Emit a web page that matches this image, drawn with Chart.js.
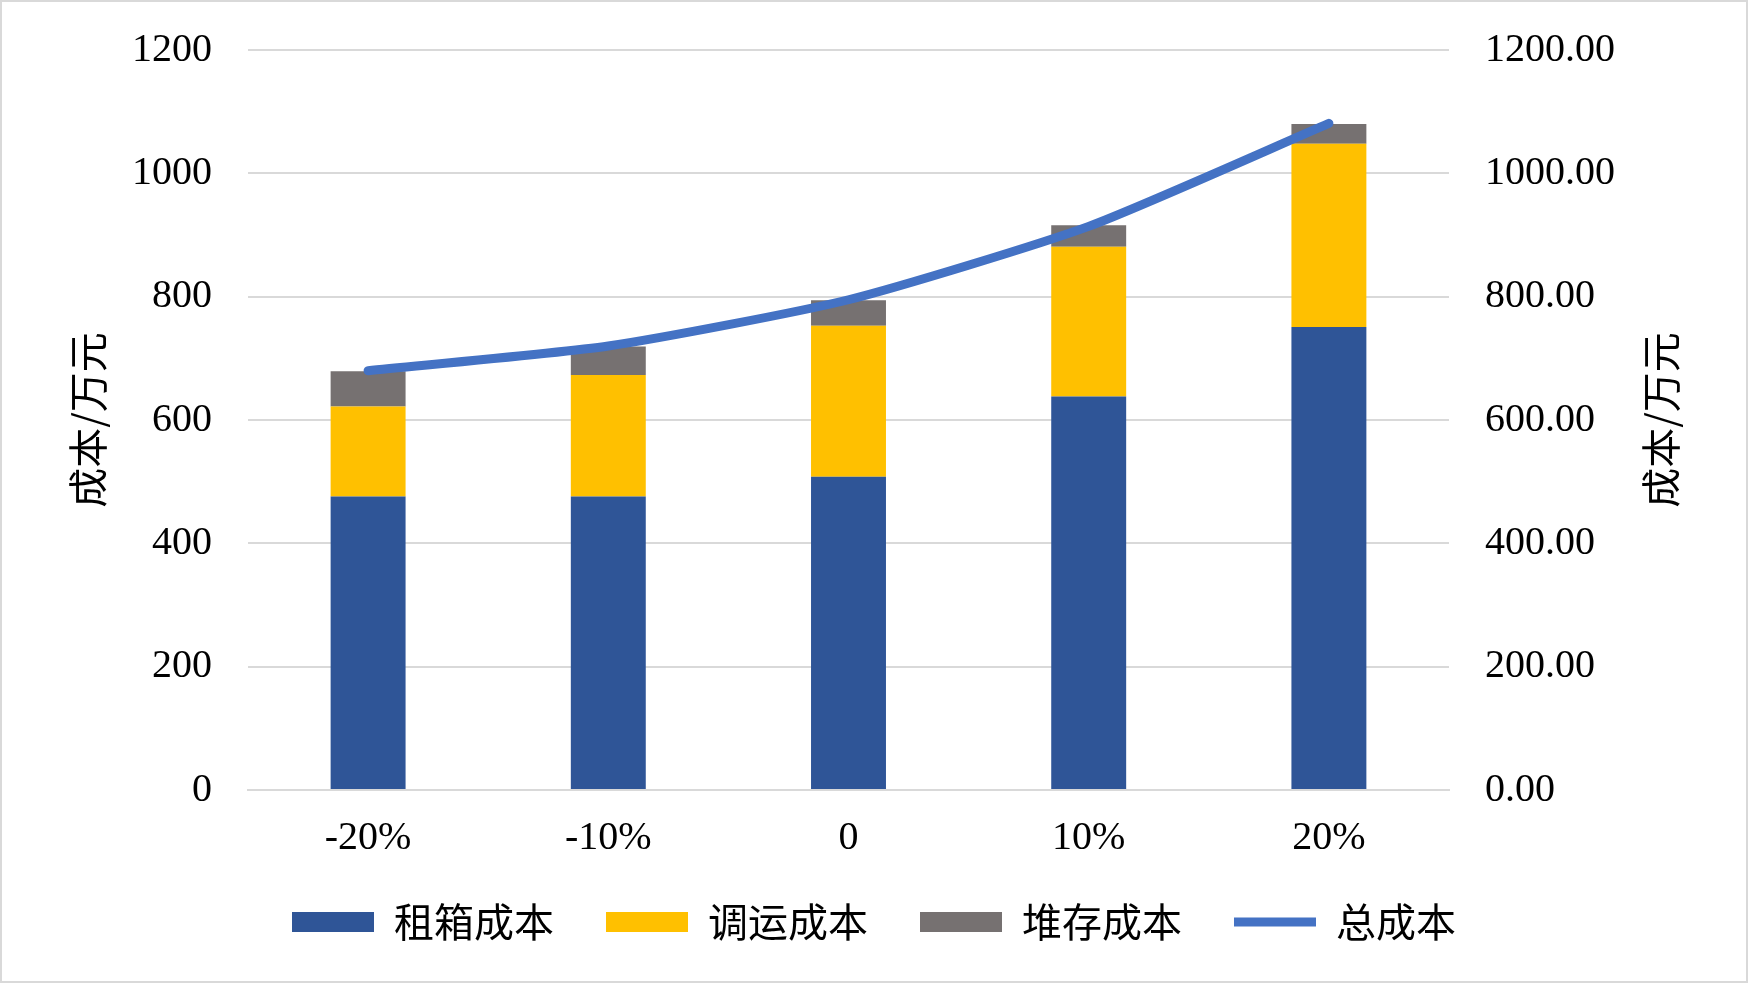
<!DOCTYPE html>
<html>
<head>
<meta charset="utf-8">
<script src="https://cdn.jsdelivr.net/npm/chart.js@4"></script>
<style>
    html, body { margin: 0; padding: 0; background: #fff; }
    #wrap { width: 1744px; height: 979px; border: 2px solid #d9d9d9; }
</style>
</head>
<body>
<div id="wrap"><canvas id="costChart" width="1744" height="979"></canvas></div>
<script>
// categories and series
const categories = ['-20%', '-10%', '0', '10%', '20%'];
const rentCost = [476, 476, 508, 638, 751];       // 租箱成本
const transportCost = [146, 197, 245, 243, 297];  // 调运成本
const storageCost = [57, 46, 41, 35, 32];         // 堆存成本
const totalCost = [680, 720, 795, 914, 1081];     // 总成本
const yTicks = [0, 200, 400, 600, 800, 1000, 1200];
const yTitle = '成本/万元';

const latin = "'Liberation Serif', 'Noto Sans CJK SC'";
const cjk = "'Noto Sans CJK SC'";

// Chart.js turns a right-hand title top-to-bottom; the reference reads bottom-to-top
const rightTitle = {
    id: 'rightTitle',
    afterDraw(chart) {
        const s = chart.scales.y1;
        const c = chart.ctx;
        c.save();
        c.translate(s.right - 85, (s.top + s.bottom) / 2);
        c.rotate(-Math.PI / 2);
        c.font = "40px " + cjk;
        c.fillStyle = '#000';
        c.textAlign = 'center';
        c.textBaseline = 'middle';
        c.fillText(yTitle, 0, 0);
        c.restore();
    }
};

const ctx = document.getElementById('costChart').getContext('2d');

new Chart(ctx, {
    type: 'bar',
    data: {
        labels: categories,
        datasets: [
            { label: '租箱成本', data: rentCost, backgroundColor: '#2f5597', borderWidth: 0, pointStyle: 'rect', yAxisID: 'y' },
            { label: '调运成本', data: transportCost, backgroundColor: '#ffc000', borderWidth: 0, pointStyle: 'rect', yAxisID: 'y' },
            { label: '堆存成本', data: storageCost, backgroundColor: '#767171', borderWidth: 0, pointStyle: 'rect', yAxisID: 'y' },
            {
                type: 'line',
                label: '总成本',
                data: totalCost,
                yAxisID: 'y1',
                borderColor: '#4472c4',
                backgroundColor: '#4472c4',
                borderWidth: 9,
                borderCapStyle: 'round',
                pointStyle: 'line',
                pointRadius: 0,
                tension: 0.2,
                order: -1
            }
        ]
    },
    options: {
        responsive: false,
        animation: false,
        devicePixelRatio: 1,
        barPercentage: 0.312,
        categoryPercentage: 1,
        layout: { padding: { top: 48, bottom: 29, left: 0, right: 0 } },
        scales: {
            x: {
                stacked: true,
                grid: { display: false, drawTicks: false },
                border: { display: true, color: '#d9d9d9', width: 2 },
                ticks: { color: '#000', font: { family: latin, size: 40 }, padding: 24 },
                afterFit: (axis) => { axis.height = 60; }
            },
            y: {
                stacked: true,
                position: 'left',
                min: 0,
                max: 1200,
                afterBuildTicks: (axis) => { axis.ticks = yTicks.map(v => ({ value: v })); },
                grid: { color: '#d9d9d9', lineWidth: 2, drawTicks: false },
                border: { display: false },
                ticks: { color: '#000', font: { family: latin, size: 40 }, padding: 36, callback: (v) => String(v) },
                title: { display: true, text: yTitle, color: '#000', font: { family: cjk, size: 40 }, padding: { top: 62, bottom: 0 } },
                afterFit: (axis) => { axis.width = 246; axis.paddingTop = 0; axis.paddingBottom = 0; }
            },
            y1: {
                position: 'right',
                min: 0,
                max: 1200,
                afterBuildTicks: (axis) => { axis.ticks = yTicks.map(v => ({ value: v })); },
                grid: { drawOnChartArea: false, drawTicks: false },
                border: { display: false },
                ticks: { color: '#000', font: { family: latin, size: 40 }, padding: 36, callback: (v) => Number(v).toFixed(2) },
                title: { display: false },
                afterFit: (axis) => { axis.width = 297; axis.paddingTop = 0; axis.paddingBottom = 0; }
            }
        },
        plugins: {
            tooltip: { enabled: false },
            legend: {
                position: 'bottom',
                labels: {
                    usePointStyle: true,
                    pointStyleWidth: 82,
                    boxHeight: 20,
                    padding: 52,
                    color: '#000',
                    font: { family: cjk, size: 40 },
                    sort: (a, b) => a.datasetIndex - b.datasetIndex
                }
            }
        }
    },
    plugins: [rightTitle]
});
</script>
</body>
</html>
